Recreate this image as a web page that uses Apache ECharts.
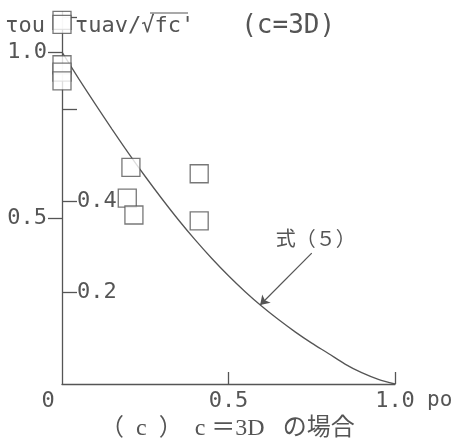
<!DOCTYPE html>
<html>
<head>
<meta charset="utf-8">
<script src="https://cdn.jsdelivr.net/npm/echarts@6/dist/echarts.min.js"></script>
<style>
  html, body { margin: 0; padding: 0; background: #fff; }
  #chart { width: 468px; height: 447px; }
</style>
</head>
<body>
<div id="chart"></div>
<script>
// Equation (5): normalized strength ratio vs po
const curvePo    = [0, 0.05, 0.1, 0.15, 0.2, 0.25, 0.3, 0.35, 0.4, 0.45, 0.5, 0.55, 0.6, 0.65, 0.7, 0.75, 0.8, 0.85, 0.9, 0.95, 1.0];
const curveRatio = [1.0, 0.92, 0.843, 0.768, 0.695, 0.625, 0.558, 0.494, 0.434, 0.378, 0.326, 0.278, 0.234, 0.194, 0.157, 0.123, 0.092, 0.06, 0.034, 0.014, 0];

// Test results, tau_uav / sqrt(fc')
const testPo  = [0, 0, 0, 0, 0, 0.207, 0.412, 0.196, 0.216, 0.412];
const testTau = [0.794, 0.785, 0.697, 0.681, 0.662, 0.473, 0.459, 0.406, 0.369, 0.356];

// Axis ticks and labels
const xTicks       = [0.5, 1.0];
const xLabels      = [0, 0.5, 1.0];
const yLeftTicks   = [0.5, 1.0];
const yInnerTicks  = [0.2, 0.4, 0.6, 0.8];
const yInnerLabels = [0.2, 0.4];

// Arrow pointing at the curve, and its label
const arrowFrom   = [0.75, 0.394];
const arrowTo     = [0.595, 0.238];
const arrowText   = '式（５）';
const arrowTextAt = [0.762, 0.44];

const INK = '#555';
const MONO = '"DejaVu Sans Mono", monospace';

const chart = echarts.init(document.getElementById('chart'));
chart.setOption({
  animation: false,
  backgroundColor: '#fff',
  title: {
    text: '（  c  ）　c ＝3D   の場合',
    left: 95,
    top: 412,
    textStyle: {
      color: INK, fontSize: 24, fontWeight: 'normal',
      fontFamily: '"Liberation Serif", "Noto Sans CJK JP", serif'
    }
  },
  grid: { left: 62, right: 73, top: 12, bottom: 63, outerBoundsMode: 'none' },
  xAxis: {
    type: 'value', min: 0, max: 1.0,
    name: 'po', nameLocation: 'end', nameGap: 32,
    nameTextStyle: { color: INK, fontSize: 21, fontFamily: MONO, verticalAlign: 'top', padding: [6, 0, 0, 0] },
    axisLine: { show: true, lineStyle: { color: INK, width: 1.3 } },
    axisTick: { show: true, inside: true, length: 12, customValues: xTicks, lineStyle: { color: INK, width: 1.3 } },
    axisLabel: {
      show: true, margin: 6, customValues: xLabels,
      color: INK, fontSize: 22, fontFamily: MONO,
      formatter: v => v === 0 ? '{z|0}' : '{n|' + v.toFixed(1) + '}',
      rich: {
        z: { color: INK, fontSize: 22, fontFamily: MONO, padding: [0, 28, 0, 0] },
        n: { color: INK, fontSize: 22, fontFamily: MONO }
      }
    },
    splitLine: { show: false }
  },
  yAxis: [
    {
      type: 'value', min: 0, max: 1.1205, position: 'left',
      name: 'τou', nameLocation: 'end', nameGap: -14,
      nameTextStyle: { color: INK, fontSize: 22, fontFamily: MONO, align: 'right', verticalAlign: 'middle', padding: [0, 17, 0, 0] },
      axisLine: { show: true, lineStyle: { color: INK, width: 1.3 } },
      axisTick: { show: true, inside: false, length: 14, customValues: yLeftTicks, lineStyle: { color: INK, width: 1.3 } },
      axisLabel: {
        show: true, margin: 15, customValues: yLeftTicks,
        color: INK, fontSize: 22, fontFamily: MONO,
        formatter: v => v.toFixed(1)
      },
      splitLine: { show: false }
    },
    {
      type: 'value', min: 0, max: 0.8122, position: 'left', offset: 0,
      name: "{a|τuav/√fc'}{b|   (c=3D)}", nameLocation: 'end', nameGap: -14,
      nameTextStyle: {
        color: INK, fontSize: 22, fontFamily: MONO, align: 'left', verticalAlign: 'middle', padding: [0, 0, 0, 13],
        rich: {
          a: { color: INK, fontSize: 22, fontFamily: MONO },
          b: { color: INK, fontSize: 26, fontFamily: MONO }
        }
      },
      axisLine: { show: false },
      axisTick: { show: true, inside: true, length: 15, customValues: yInnerTicks, lineStyle: { color: INK, width: 1.3 } },
      axisLabel: {
        show: true, inside: true, margin: 15, customValues: yInnerLabels,
        color: INK, fontSize: 22, fontFamily: MONO, padding: [8, 0, 0, 0],
        formatter: v => v.toFixed(1)
      },
      splitLine: { show: false }
    }
  ],
  series: [
    {
      type: 'line', yAxisIndex: 0, smooth: 0.3, showSymbol: false, z: 2,
      data: curvePo.map((p, i) => [p, curveRatio[i]]),
      lineStyle: { color: INK, width: 1.3 },
      markLine: {
        silent: true, symbol: ['none', 'arrow'], symbolSize: 9,
        lineStyle: { color: INK, width: 1.2, type: 'solid' },
        label: { show: false },
        data: [[{ coord: arrowFrom }, { coord: arrowTo }]]
      },
      markPoint: {
        silent: true, symbol: 'circle', symbolSize: 1,
        itemStyle: { color: 'rgba(0,0,0,0)' },
        label: {
          show: true, position: 'inside', align: 'center', verticalAlign: 'middle',
          formatter: arrowText,
          color: INK, fontSize: 20, fontFamily: '"Noto Sans CJK JP", sans-serif'
        },
        data: [{ coord: arrowTextAt }]
      }
    },
    {
      type: 'scatter', yAxisIndex: 1, z: 5, clip: false,
      symbol: 'rect', symbolSize: 18,
      data: testPo.map((p, i) => [p, testTau[i]]),
      itemStyle: { color: '#fff', borderColor: INK, borderWidth: 1.3 }
    }
  ],
  graphic: [
    // radical overline over fc'
    { type: 'line', shape: { x1: 150, y1: 13, x2: 188, y2: 13 }, style: { stroke: INK, lineWidth: 1.2 }, z: 10 }
  ]
});
</script>
</body>
</html>
